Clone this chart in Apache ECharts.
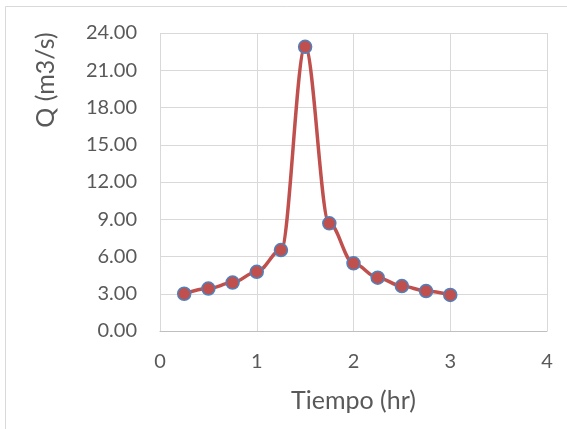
<!DOCTYPE html>
<html>
<head>
<meta charset="utf-8">
<style>
  html, body { margin: 0; padding: 0; background: #ffffff; }
  #chart { width: 567px; height: 429px; }
</style>
<script src="https://cdn.jsdelivr.net/npm/echarts@6/dist/echarts.min.js"></script>
</head>
<body>
<div id="chart"></div>
<script>
// Hidrograma: caudal Q (m3/s) frente a tiempo (hr)
const tiempo = [0.25, 0.5, 0.75, 1.0, 1.25, 1.5, 1.75, 2.0, 2.25, 2.5, 2.75, 3.0];
const caudal = [3.00, 3.42, 3.90, 4.77, 6.52, 22.89, 8.67, 5.45, 4.29, 3.62, 3.22, 2.90];
const xTicks = [0, 1, 2, 3, 4];
const yTicks = [0, 3, 6, 9, 12, 15, 18, 21, 24];

const FONT = 'Lato, "Open Sans", sans-serif';
const TEXT = '#595959';
const GRID = '#D9D9D9';

const chart = echarts.init(document.getElementById('chart'), null, { renderer: 'canvas' });

chart.setOption({
  animation: false,
  backgroundColor: '#ffffff',
  graphic: [
    {
      type: 'polyline',
      shape: { points: [[5.5, 429], [5.5, 6.5], [567, 6.5]] },
      style: { stroke: GRID, lineWidth: 1, fill: null },
      silent: true
    },
    {
      // título del eje vertical
      type: 'text',
      x: 46,
      y: 80,
      rotation: Math.PI / 2,
      style: {
        text: 'Q (m3/s)',
        fill: TEXT,
        font: '25px ' + FONT,
        align: 'center',
        verticalAlign: 'middle'
      },
      silent: true
    }
  ],
  grid: { left: 160, right: 20, top: 33, bottom: 98, containLabel: false },
  xAxis: {
    type: 'value',
    min: xTicks[0],
    max: xTicks[xTicks.length - 1],
    interval: 1,
    name: 'Tiempo (hr)',
    nameLocation: 'middle',
    nameGap: 57,
    nameTextStyle: { color: TEXT, fontFamily: FONT, fontSize: 25 },
    axisLine: { show: true, lineStyle: { color: '#BFBFBF', width: 1 } },
    axisTick: { show: false },
    axisLabel: { color: TEXT, fontFamily: FONT, fontSize: 20, margin: 21 },
    splitLine: { show: true, lineStyle: { color: GRID, width: 1 } }
  },
  yAxis: {
    type: 'value',
    min: yTicks[0],
    max: yTicks[yTicks.length - 1],
    interval: 3,
    axisLine: { show: false },
    axisTick: { show: false },
    axisLabel: {
      color: TEXT, fontFamily: FONT, fontSize: 20, margin: 23,
      formatter: v => v.toFixed(2)
    },
    splitLine: { show: true, lineStyle: { color: GRID, width: 1 } }
  },
  series: [
    {
      type: 'line',
      data: tiempo.map((t, i) => [t, caudal[i]]),
      smooth: 0.35,
      smoothMonotone: 'x',
      symbol: 'circle',
      symbolSize: 13,
      lineStyle: { color: '#C0504D', width: 3.5 },
      itemStyle: { color: '#C0504D', borderColor: '#4F81BD', borderWidth: 1.5 },
      z: 3
    }
  ]
});
</script>
</body>
</html>
